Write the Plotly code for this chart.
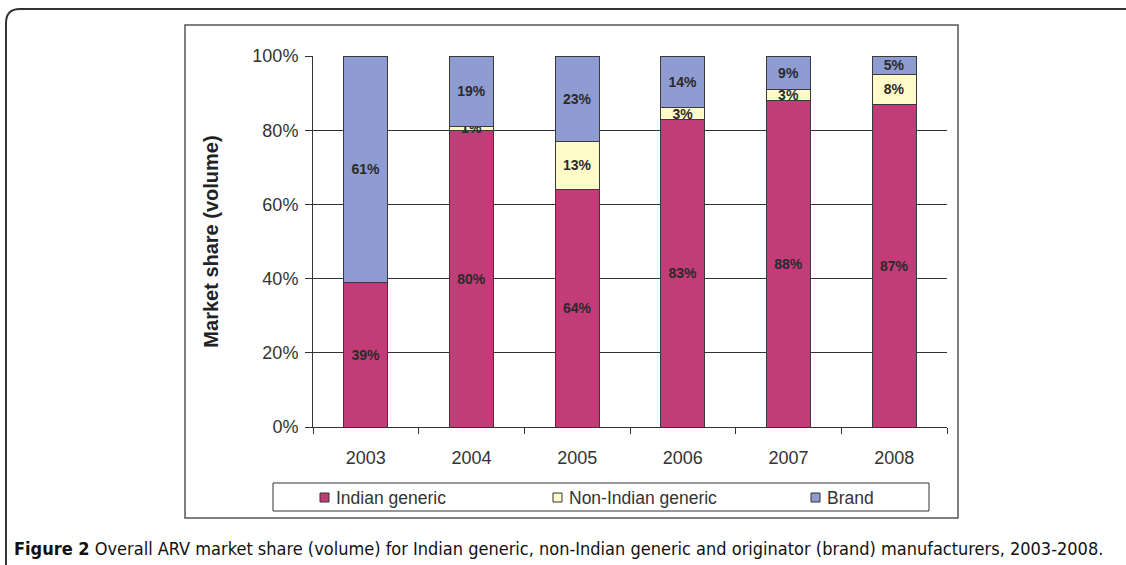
import plotly.graph_objects as go

years = ["2003", "2004", "2005", "2006", "2007", "2008"]
indian_generic = [39, 80, 64, 83, 88, 87]
non_indian_generic = [0, 1, 13, 3, 3, 8]
brand = [61, 19, 23, 14, 9, 5]
series_names = ["Indian generic", "Non-Indian generic", "Brand"]
y_ticks = [0, 20, 40, 60, 80, 100]
y_tick_labels = ["0%", "20%", "40%", "60%", "80%", "100%"]

colors = ["#C23C78", "#FFFBC9", "#8F9CD1"]
W, H = 1126, 565
L, R, T, B = 313, 947, 56, 427


def px(x):
    return (x - L) / (R - L)


def py(y):
    return (B - y) / (B - T)


fig = go.Figure()
for name, vals, col in zip(series_names, [indian_generic, non_indian_generic, brand], colors):
    fig.add_trace(go.Bar(
        x=years, y=vals, name=name,
        marker=dict(color=col, line=dict(color="#3a3a3a", width=1)),
        text=[f"{v}%" if v > 0 else "" for v in vals],
        textposition="inside", insidetextanchor="middle",
        textangle=0,
        textfont=dict(family="Liberation Sans, Arial", size=14, color="#2a2a2a", weight="bold"),
        constraintext="none",
        cliponaxis=False,
        showlegend=False,
    ))

fig.update_layout(
    barmode="stack",
    bargap=0.584,
    width=W, height=H,
    margin=dict(l=L, r=W - R, t=T, b=H - B),
    paper_bgcolor="white", plot_bgcolor="white",
    font=dict(family="Liberation Sans, Arial", color="#333"),
    showlegend=False,
    xaxis=dict(
        showline=True, linecolor="#333", linewidth=1,
        ticks="outside", ticklen=6, tickcolor="#333", tickson="boundaries",
        tickfont=dict(size=18, color="#333"),
        ticklabelstandoff=14,
        showgrid=False,
    ),
    yaxis=dict(
        range=[0, 100],
        tickvals=y_ticks, ticktext=y_tick_labels,
        showline=True, linecolor="#333", linewidth=1,
        ticks="outside", ticklen=7, tickcolor="#333",
        tickfont=dict(size=18, color="#333"),
        ticklabelstandoff=3,
        showgrid=False, zeroline=False,
        minor=dict(tickvals=y_ticks[1:-1], showgrid=True, gridcolor="#333", gridwidth=1, ticks=""),
        title=dict(text="<b>Market share (volume)</b>", font=dict(size=20, color="#222"), standoff=28),
    ),
)

# inner chart frame
fig.add_shape(type="rect", xref="paper", yref="paper",
              x0=px(185), x1=px(958), y0=py(518), y1=py(25),
              line=dict(color="#555", width=1.5), layer="below")
# outer rounded frame (top-left corner)
r = 14
path = (f"M {px(1130)},{py(9)} L {px(6 + r)},{py(9)} "
        f"Q {px(6)},{py(9)} {px(6)},{py(9 + r)} L {px(6)},{py(570)}")
fig.add_shape(type="path", xref="paper", yref="paper", path=path,
              line=dict(color="#333", width=2))

# legend box (drawn manually to match the single-row layout)
fig.add_shape(type="rect", xref="paper", yref="paper",
              x0=px(273), x1=px(929), y0=py(511), y1=py(483),
              line=dict(color="#333", width=1), fillcolor="white")
legend_x = [320, 553, 811]
for name, col, lx in zip(series_names, colors, legend_x):
    fig.add_shape(type="rect", xref="paper", yref="paper",
                  x0=px(lx), x1=px(lx + 9), y0=py(502), y1=py(493),
                  line=dict(color="#333", width=1), fillcolor=col)
    fig.add_annotation(xref="paper", yref="paper", x=px(lx + 14), y=py(497.5),
                       xanchor="left", yanchor="middle", showarrow=False,
                       text=name, font=dict(size=17.5, color="#333"))

fig.add_annotation(
    xref="paper", yref="paper", x=px(12), y=py(548), xanchor="left", yanchor="middle",
    showarrow=False,
    text="<b>Figure 2</b> Overall ARV market share (volume) for Indian generic, non-Indian generic and originator (brand) manufacturers, 2003-2008.",
    font=dict(family="Liberation Sans Narrow, DejaVu Sans Condensed, Arial", size=18, color="#111"),
)

fig.write_html("out.html")
